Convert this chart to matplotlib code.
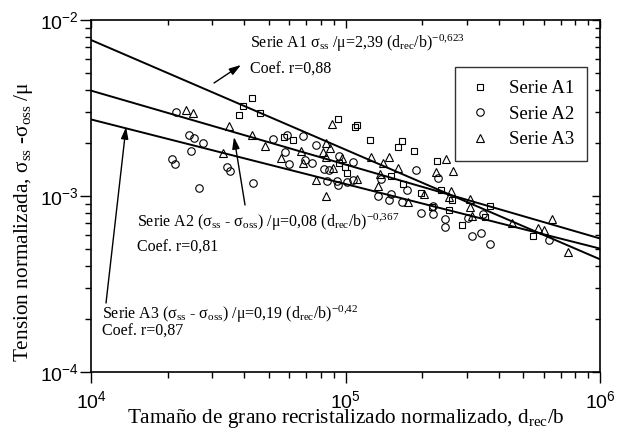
import numpy as np
import matplotlib
matplotlib.use("Agg")
import matplotlib.pyplot as plt
import matplotlib.lines as mlines
from matplotlib.ticker import LogLocator, FuncFormatter, NullFormatter

plt.rcParams["font.family"] = "Liberation Serif"
plt.rcParams["mathtext.fontset"] = "custom"
plt.rcParams["mathtext.rm"] = "Liberation Serif"
plt.rcParams["mathtext.it"] = "Liberation Serif:italic"
plt.rcParams["mathtext.sf"] = "Liberation Sans"

# ---- measured data: normalised recrystallised grain size vs normalised stress ----
a1_d = [3.80e4, 3.96e4, 4.29e4, 4.61e4, 5.73e4, 6.22e4, 9.34e4, 1.09e5, 1.11e5,
        1.25e5, 1.67e5, 1.61e5, 1.86e5, 2.29e5, 9.43e4, 9.95e4, 1.01e5, 1.51e5,
        1.68e5, 1.98e5, 2.37e5, 2.62e5, 2.19e5, 2.55e5, 2.87e5, 3.53e5, 3.70e5,
        5.46e5]
a1_s = [2.89e-3, 3.25e-3, 3.60e-3, 2.96e-3, 2.16e-3, 2.08e-3, 2.74e-3, 2.47e-3, 2.53e-3,
        2.08e-3, 2.05e-3, 1.90e-3, 1.80e-3, 1.58e-3, 1.54e-3, 1.46e-3, 1.35e-3, 1.30e-3,
        1.17e-3, 1.04e-3, 1.08e-3, 9.49e-4, 8.66e-4, 8.32e-4, 6.84e-4, 7.60e-4, 8.77e-4,
        5.93e-4]

a2_d = [2.16e4, 2.43e4, 2.54e4, 2.75e4, 2.47e4, 2.08e4, 2.14e4, 2.66e4, 3.42e4,
        3.52e4, 4.33e4, 5.19e4, 5.89e4, 6.81e4, 7.66e4, 5.78e4, 6.00e4, 6.93e4,
        7.38e4, 8.23e4, 9.43e4, 1.07e5, 8.46e4, 9.26e4, 9.34e4, 1.01e5, 1.07e5,
        1.38e5, 1.89e5, 2.31e5, 1.75e5, 1.34e5, 1.51e5, 1.48e5, 1.67e5, 2.21e5,
        1.98e5, 2.21e5, 2.46e5, 2.46e5, 3.03e5, 3.14e5, 3.41e5, 3.70e5, 6.31e5,
        3.48e5, 8.61e4]
a2_s = [3.00e-3, 2.22e-3, 2.14e-3, 2.00e-3, 1.80e-3, 1.62e-3, 1.52e-3, 1.11e-3, 1.46e-3,
        1.39e-3, 1.19e-3, 2.11e-3, 2.22e-3, 2.20e-3, 1.95e-3, 1.78e-3, 1.52e-3, 1.60e-3,
        1.54e-3, 1.42e-3, 1.69e-3, 1.56e-3, 1.22e-3, 1.22e-3, 1.155e-3, 1.20e-3, 1.23e-3,
        1.25e-3, 1.41e-3, 1.27e-3, 1.08e-3, 1.00e-3, 1.03e-3, 9.49e-4, 9.24e-4, 8.77e-4,
        8.00e-4, 7.90e-4, 7.40e-4, 6.67e-4, 7.50e-4, 5.93e-4, 6.16e-4, 5.33e-4, 5.62e-4,
        7.90e-4, 1.41e-3]

a3_d = [2.36e4, 2.52e4, 3.48e4, 3.30e4, 4.29e4, 4.83e4, 5.58e4, 6.68e4, 6.81e4,
        7.66e4, 8.85e4, 8.38e4, 8.69e4, 8.16e4, 8.38e4, 9.69e4, 8.93e4, 1.11e5,
        1.26e5, 1.48e5, 1.40e5, 1.61e5, 2.27e5, 2.48e5, 2.64e5, 1.37e5, 1.34e5,
        2.03e5, 2.60e5, 1.76e5, 2.55e5, 3.08e5, 3.08e5, 3.14e5, 4.51e5, 5.71e5,
        6.03e5, 6.48e5, 7.48e5, 8.38e4]
a3_s = [3.08e-3, 2.96e-3, 2.50e-3, 1.76e-3, 2.22e-3, 1.92e-3, 1.64e-3, 1.80e-3, 1.54e-3,
        1.23e-3, 2.57e-3, 2.00e-3, 1.87e-3, 1.78e-3, 1.67e-3, 1.64e-3, 1.44e-3, 1.25e-3,
        1.67e-3, 1.67e-3, 1.54e-3, 1.44e-3, 1.37e-3, 1.62e-3, 1.39e-3, 1.33e-3, 1.14e-3,
        1.03e-3, 1.07e-3, 9.24e-4, 9.86e-4, 9.61e-4, 8.66e-4, 7.69e-4, 7.03e-4, 6.58e-4,
        6.41e-4, 7.40e-4, 4.81e-4, 1.00e-3]

# power-law fits  sigma/mu = K * (d/b)^n
fit_k = [2.39, 0.08, 0.19]
fit_n = [-0.623, -0.367, -0.42]

series_labels = ["Serie A1", "Serie A2", "Serie A3"]

x_range = (1e4, 1e6)
y_range = (1e-4, 1e-2)

fig = plt.figure(figsize=(6.17, 4.32), dpi=100)
ax = fig.add_axes([91 / 617, 1 - 372 / 432, 509 / 617, 352 / 432])

ms = 5.4
ax.plot(a1_d, a1_s, ls="none", marker="s", ms=ms * 0.9, mfc="none", mec="k", mew=0.8,
        label=series_labels[0])
ax.plot(a2_d, a2_s, ls="none", marker="o", ms=ms, mfc="none", mec="k", mew=0.8,
        label=series_labels[1])
ax.plot(a3_d, a3_s, ls="none", marker="^", ms=ms * 1.1, mfc="none", mec="k", mew=0.8,
        label=series_labels[2])

d_fit = np.logspace(4, 6, 200)
for k, n in zip(fit_k, fit_n):
    ax.plot(d_fit, k * d_fit ** n, color="k", lw=1.4)

ax.set_xscale("log")
ax.set_yscale("log")
ax.set_xlim(*x_range)
ax.set_ylim(*y_range)

fmt = FuncFormatter(lambda v, p: r"$\mathsf{10^{%d}}$" % int(round(np.log10(v))))
for axis in (ax.xaxis, ax.yaxis):
    axis.set_major_locator(LogLocator(base=10, numticks=10))
    axis.set_minor_locator(LogLocator(base=10, subs=np.arange(2, 10), numticks=10))
    axis.set_major_formatter(fmt)
    axis.set_minor_formatter(NullFormatter())

ax.tick_params(which="both", direction="out", top=True, right=True, width=1.0)
ax.tick_params(which="major", length=8)
ax.tick_params(which="minor", length=4)
ax.tick_params(axis="x", which="major", labelsize=14, pad=5)
ax.tick_params(axis="y", which="major", labelsize=14, pad=1)

# top and right ticks point into the frame, bottom and left ones outwards
for tick in ax.xaxis.get_major_ticks():
    tick.tick2line.set_marker(mlines.TICKDOWN)
    tick.tick2line.set_markersize(5.5)
for tick in ax.xaxis.get_minor_ticks():
    tick.tick2line.set_marker(mlines.TICKDOWN)
    tick.tick2line.set_markersize(3.8)
for tick in ax.yaxis.get_major_ticks():
    tick.tick2line.set_marker(mlines.TICKLEFT)
    tick.tick2line.set_markersize(5.5)
for tick in ax.yaxis.get_minor_ticks():
    tick.tick2line.set_marker(mlines.TICKLEFT)
    tick.tick2line.set_markersize(3.8)

for sp in ax.spines.values():
    sp.set_linewidth(1.2)

ax.set_xlabel(r"Tamaño de grano recristalizado normalizado, d$_{\mathrm{rec}}$/b", fontsize=15.3)
ax.set_ylabel(r"Tension normalizada, σ$_{\mathrm{ss}}$ -σ$_{\mathrm{oss}}$ /μ", fontsize=15.3)
ax.xaxis.set_label_coords(0.5, -0.1)
ax.yaxis.set_label_coords(-0.11, 0.426)

leg = ax.legend(loc="upper right", bbox_to_anchor=(0.9745, 0.8665), fontsize=13.5,
                frameon=True, fancybox=False, edgecolor="k", borderpad=0.7,
                handletextpad=0.9, labelspacing=0.45, handlelength=1.28,
                borderaxespad=0)
leg.get_frame().set_linewidth(1.0)

# fit equations and correlation coefficients
fs = 11.5
ax.text(0.3124, 0.9205,
        r"Serie A1 σ$_{\mathrm{ss}}$ /μ=2,39 (d$_{\mathrm{rec}}$/b)$^{\mathrm{-0{,}623}}$",
        transform=ax.transAxes, fontsize=fs, va="baseline")
ax.text(0.3124, 0.8466, "Coef. r=0,88", transform=ax.transAxes, fontsize=fs, va="baseline")

ax.text(0.0904, 0.4119,
        r"Serie A2 (σ$_{\mathrm{ss}}$ - σ$_{\mathrm{oss}}$) /μ=0,08 (d$_{\mathrm{rec}}$/b)$^{\mathrm{-0{,}367}}$",
        transform=ax.transAxes, fontsize=fs, va="baseline")
ax.text(0.0904, 0.3409, "Coef. r=0,81", transform=ax.transAxes, fontsize=fs, va="baseline")

ax.text(0.0216, 0.1506,
        r"Serie A3 (σ$_{\mathrm{ss}}$ - σ$_{\mathrm{oss}}$) /μ=0,19 (d$_{\mathrm{rec}}$/b)$^{\mathrm{-0{,}42}}$",
        transform=ax.transAxes, fontsize=fs, va="baseline")
ax.text(0.0216, 0.1021, "Coef. r=0,87", transform=ax.transAxes, fontsize=fs, va="baseline")

arrow_style = dict(arrowstyle="-|>,head_length=0.7,head_width=0.22", color="k", lw=1.0,
                   shrinkA=0, shrinkB=0)
ax.annotate("", xy=(0.2947, 0.8722), xytext=(0.2417, 0.8210),
            xycoords="axes fraction", textcoords="axes fraction", arrowprops=arrow_style)
ax.annotate("", xy=(0.2809, 0.6676), xytext=(0.3026, 0.4744),
            xycoords="axes fraction", textcoords="axes fraction", arrowprops=arrow_style)
ax.annotate("", xy=(0.0688, 0.6960), xytext=(0.0295, 0.1960),
            xycoords="axes fraction", textcoords="axes fraction", arrowprops=arrow_style)

fig.savefig("out.png", dpi=100)
